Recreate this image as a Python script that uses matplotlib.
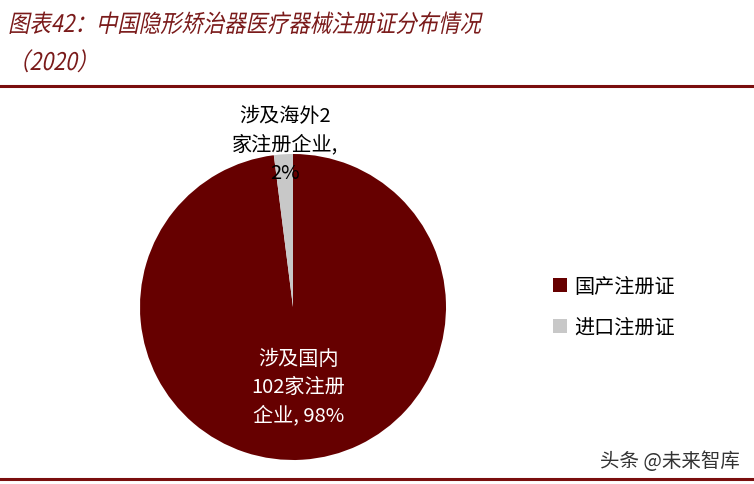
import matplotlib
matplotlib.use("Agg")
import matplotlib.pyplot as plt
from matplotlib.lines import Line2D
from matplotlib.patheffects import AbstractPathEffect
from matplotlib.transforms import Affine2D

plt.rcParams['font.family'] = ['Noto Sans CJK SC', 'DejaVu Sans']

# data
categories = ["国产注册证", "进口注册证"]
shares = [98, 2]
slice_labels = ["涉及国内\n102家注册\n企业, 98%", "涉及海外2\n家注册企业,\n2%"]
colors = ["#660000", "#c8c8c8"]
title_lines = ["图表42：中国隐形矫治器医疗器械注册证分布情况", "（2020）"]


class FakeItalic(AbstractPathEffect):
    # Noto CJK has no italic face, so slant + narrow the glyph outlines
    def __init__(self, skew=12, sx=0.88):
        super().__init__()
        self.skew, self.sx = skew, sx

    def draw_path(self, renderer, gc, tpath, affine, rgbFace=None):
        tx, ty = affine.get_matrix()[0, 2], affine.get_matrix()[1, 2]
        extra = (Affine2D().translate(-tx, -ty).scale(self.sx, 1)
                 .skew_deg(self.skew, 0).translate(tx, ty))
        renderer.draw_path(gc, tpath, affine + extra, rgbFace)


W, H = 754, 485
fig = plt.figure(figsize=(W / 100, H / 100), dpi=100)

# title and rules
for txt, ypx in zip(title_lines, [26, 64]):
    fig.text(8 / W, 1 - ypx / H, txt, ha='left', va='center', fontsize=17.5,
             color='#7a1a1a', path_effects=[FakeItalic()])
rule_col = '#7a0e0e'
fig.add_artist(Line2D([0, 1], [1 - 87 / H, 1 - 87 / H], color=rule_col, lw=2.2))
fig.add_artist(Line2D([0, 1], [1 - 480 / H, 1 - 480 / H], color=rule_col, lw=2.2))

# pie
cx, cy, r = 293, 308, 153
ax = fig.add_axes([(cx - r) / W, (H - cy - r) / H, 2 * r / W, 2 * r / H])
wedges, _ = ax.pie(shares, colors=colors, startangle=90, counterclock=False,
                   radius=1)
ax.set_xlim(-1, 1)
ax.set_ylim(-1, 1)
ax.axis('off')

ax.text(0.035, -0.52, slice_labels[0], ha='center', va='center', fontsize=14.5,
        color='white', linespacing=1.45)
ax.text(-0.05, 1.065, slice_labels[1], ha='center', va='center', fontsize=14.5,
        color='black', linespacing=1.45, clip_on=False)

# legend
fig.legend(wedges, categories, loc='center left',
           bbox_to_anchor=(535 / W, 1 - 308 / H), frameon=False, fontsize=14.5,
           handlelength=0.7, handleheight=0.7, handletextpad=0.35,
           labelspacing=1.0)

# watermark
fig.text(740 / W, 1 - 462 / H, "头条 @未来智库", ha='right', va='center',
         fontsize=14, color='#333333')

fig.savefig("out.png", dpi=100)
